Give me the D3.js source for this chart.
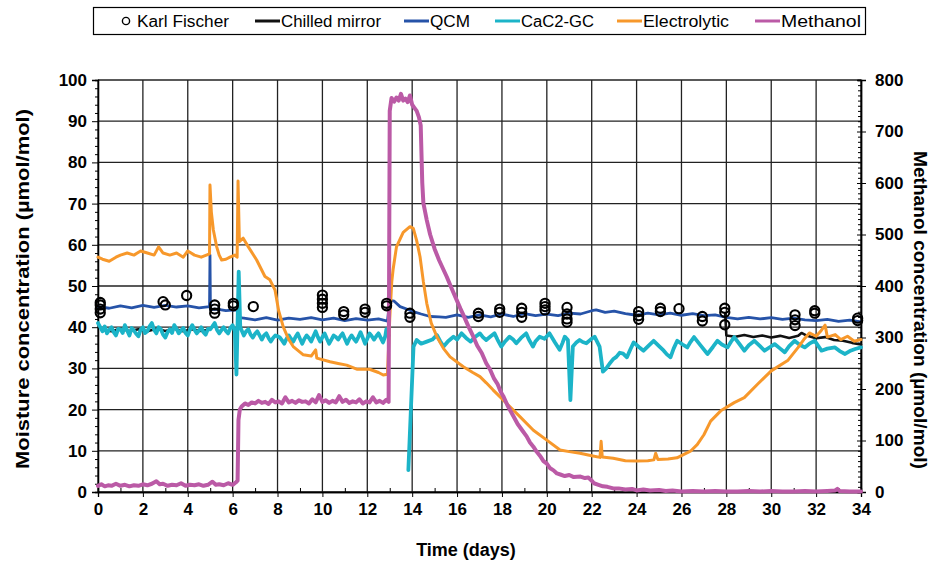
<!DOCTYPE html>
<html>
<head>
<meta charset="utf-8">
<script src="https://cdn.jsdelivr.net/npm/d3@7"></script>
<style>
  body { margin: 0; background: #fff; }
  text { font-family: "Liberation Sans", Arial, sans-serif; }
</style>
</head>
<body>
<svg id="chart" width="935" height="564"></svg>
<script>
// ---- tick values ----
const dayTicks = d3.range(0, 35, 2);
const moistureTicks = d3.range(0, 101, 10);
const methanolTicks = d3.range(0, 801, 100);

// ---- series: [time (days), value] ----
// Karl Fischer titration samples (µmol/mol)
const karlFischer = [
  [0.1,46],[0.1,45.4],[0.1,44.4],[0.1,43.5],
  [2.9,46.2],[3.0,45.4],[3.95,47.7],
  [5.2,45.4],[5.2,44.4],[5.2,43.4],[6.03,45.8],[6.03,45.2],[6.92,45],
  [10.0,47.8],[10.0,46.8],[10.0,45.8],[10.0,44.8],[10.95,43.8],[10.95,43],
  [11.9,44.4],[11.9,43.6],[12.86,45.8],[12.86,45.2],
  [13.9,43.4],[13.9,42.4],[16.95,43.4],[16.95,42.6],
  [17.9,44.4],[17.9,43.6],[18.88,44.6],[18.88,43.6],[18.88,42.4],
  [19.92,45.8],[19.92,45],[19.92,44.2],
  [20.9,44.8],[20.9,43.2],[20.9,42],[20.9,41.2],
  [24.09,43.8],[24.09,42.8],[24.09,41.9],[25.06,44.6],[25.06,43.8],[25.89,44.5],
  [26.93,42.6],[26.93,41.5],[27.93,44.6],[27.93,43.6],[27.93,40.6],
  [31.06,43],[31.06,41.8],[31.06,40.4],[31.94,44],[31.94,43.4],
  [33.85,42.2],[33.85,41.6]
];
// Chilled mirror hygrometer (µmol/mol), two recorded intervals
const chilledMirrorA = [
  [0.2,39.4],[0.6,39],[1.0,39.6],[1.4,39.1],[1.8,39.5],[2.2,39],[2.6,39.6],
  [3.0,39.1],[3.4,39.6],[3.8,39],[4.2,39.5],[4.6,39.1],[4.9,39.4]
];
const chilledMirrorB = [
  [27.95,43.2],[28.0,38],[28.4,37.7],[28.8,38.1],[29.2,37.6],[29.6,38],[30.0,37.5],
  [30.4,37.9],[30.8,37.4],[31.2,37.9],[31.35,38.6],[31.6,37.9],[32.0,37.3],
  [32.4,37.6],[32.8,36.9],[33.2,36.7],[33.6,36.2],[34.0,35.8]
];
// Quartz crystal microbalance (µmol/mol)
const qcm = [
  [0,45],[0.5,44.6],[1,45.2],[1.5,44.7],[2,45.3],[2.5,44.8],[3,45.3],[3.5,44.9],
  [4,45.2],[4.5,44.7],[4.97,45],[4.99,57.5],[5.01,44.3],[5.3,44.4],[5.7,44],
  [6.1,44.2],[6.25,44.1],[6.3,42.3],[6.5,42.2],[7,41.8],[7.5,42.3],[8,41.7],[8.5,42.2],
  [9,41.9],[9.5,42.3],[10,41.8],[10.5,42.2],[11,41.6],[11.5,42.1],[12,41.7],
  [12.5,42],[12.9,41.5],[13.0,46.5],[13.2,46.3],[13.46,45],[14.05,43.8],
  [14.4,43.2],[14.8,42.6],[15.2,42.5],[15.5,42.4],[16,43],[16.5,42.4],[17,43],
  [17.5,42.5],[18,43.2],[18.5,42.6],[19,43.3],[19.5,42.8],[20,43.2],[20.5,42.8],
  [21,43.4],[21.5,43.2],[22,44],[22.2,44.2],[22.6,43.6],[23,43.9],[23.5,43.3],
  [24,42.9],[24.5,43.4],[25,43],[25.5,43.4],[26,42.9],[26.5,43.3],[27,42.8],
  [27.5,43],[28,42.4],[28.5,42],[29,42.4],[29.5,42],[30,42.3],[30.5,41.9],
  [31,42.2],[31.5,41.8],[32,41.6],[32.5,41.9],[33,41.4],[33.5,41.7],[34,41.3]
];
// CaC2 reaction with gas chromatography (µmol/mol), two intervals
const cac2gcA = [
  [0,41],[0.1,40],[0.2,39],[0.3,40.2],[0.4,38.5],[0.5,39.4],[0.6,40],[0.7,38.8],
  [0.8,38],[0.9,39.6],[1.0,39.5],[1.1,38.6],[1.2,40.5],[1.3,39.2],[1.4,38],
  [1.5,39.8],[1.6,39.2],[1.7,38.4],[1.8,37.8],[1.9,39.4],[2.0,40],[2.1,38.6],
  [2.2,39],[2.3,40.2],[2.4,41],[2.5,39.4],[2.6,38.5],[2.7,40],[2.8,39.5],[2.9,38.2],
  [3.0,37.5],[3.1,38.8],[3.2,39.5],[3.3,38.6],[3.4,40.5],[3.5,39.6],[3.6,38.5],
  [3.7,39.2],[3.8,39.8],[3.9,38.6],[4.0,38],[4.1,39.4],[4.2,40.5],[4.3,39.4],
  [4.4,38.5],[4.5,39.2],[4.6,40],[4.7,38.8],[4.8,38.2],[4.9,39.6],[5.0,39.5],
  [5.1,40.2],[5.2,41],[5.3,39.4],[5.4,38.5],[5.5,39.3],[5.6,40],[5.7,39.1],
  [5.8,38.5],[5.9,39.8],[6.0,40.5],[6.1,39],[6.17,28.5],[6.27,53.5],[6.34,40],
  [6.5,38],[6.6,39],[6.7,39.5],[6.8,38.2],[6.9,37.5],[7.0,38.4],[7.1,39],[7.2,38],
  [7.3,37],[7.4,38],[7.5,38.5],[7.6,37.4],[7.7,36.5],[7.8,37.4],[7.9,38],[8.0,37.8],
  [8.1,37.5],[8.2,36.8],[8.3,36],[8.4,37.2],[8.5,38],[8.6,37.2],[8.7,36.5],[8.8,37.6],
  [8.9,38.5],[9.0,37.2],[9.1,36],[9.2,37.2],[9.3,38],[9.4,37.4],[9.5,36.5],[9.6,37.8],
  [9.7,39],[9.8,37.6],[9.9,36.5],[10.0,37.6],[10.1,38.5],[10.2,37.2],[10.3,36],
  [10.4,37],[10.5,38],[10.6,37.6],[10.7,37],[10.8,37.8],[10.9,38.5],[11.0,37.2],
  [11.1,36],[11.2,37.2],[11.3,38],[11.4,37.2],[11.5,36.5],[11.6,37.6],[11.7,38.8],
  [11.8,37.4],[11.9,36],[12.0,37.2],[12.1,38.5],[12.2,37.8],[12.3,37],[12.4,37.8],
  [12.5,38.5],[12.6,37.4],[12.7,36.3],[12.8,37.8],[12.85,39.5],[12.95,38]
];
const cac2gcB = [
  [13.83,5.3],[14.06,35.3],[14.2,36.9],[14.4,36],[14.65,36.5],[14.9,37],[15.1,38.1],
  [15.25,36.6],[15.4,35.3],[15.6,36.6],[15.84,37.7],[16.0,37],[16.2,38.5],[16.4,37.4],
  [16.6,36.5],[16.8,37.6],[17.02,38.5],[17.15,37.6],[17.3,36.9],[17.5,37.8],
  [17.67,38.5],[17.8,37],[17.97,35.3],[18.15,36.6],[18.34,37.7],[18.5,37],[18.64,36.1],
  [18.85,37.4],[19.08,38.5],[19.2,37],[19.38,35.3],[19.5,36.6],[19.68,37.7],
  [19.9,37.2],[20.12,38.5],[20.35,36.4],[20.57,34.5],[20.7,36.2],[20.8,37.7],
  [20.94,36.9],[21.05,22.3],[21.16,35.3],[21.3,36.2],[21.46,36.9],[21.6,36.4],
  [21.76,36.1],[21.95,37],[22.13,37.7],[22.35,35.3],[22.5,29.2],[22.65,30],
  [22.8,31.2],[22.95,32.2],[23.1,32.8],[23.25,33.8],[23.4,33.6],[23.57,32.7],
  [23.72,34.6],[23.87,36.3],[24.1,35.2],[24.31,34.3],[24.55,35.6],[24.76,36.7],
  [25.0,35.4],[25.21,34.3],[25.35,33.4],[25.51,32.7],[25.65,34.8],[25.81,36.7],
  [26.05,35.8],[26.26,35.1],[26.4,36.4],[26.56,37.6],[26.85,35.6],[27.16,33.5],
  [27.4,35.2],[27.6,36.7],[27.8,35.8],[28.05,35.1],[28.2,36.4],[28.35,37.6],
  [28.6,35.8],[28.8,34.3],[29.0,35.6],[29.25,36.7],[29.5,35.4],[29.7,34.3],
  [29.95,35.2],[30.15,35.9],[30.4,34.8],[30.6,33.9],[30.8,35.4],[31.04,36.7],
  [31.25,35.8],[31.49,35.1],[31.7,36],[31.94,36.7],[32.1,35.4],[32.24,34.3],
  [32.5,34.8],[32.84,35.1],[33.05,34.2],[33.29,33.5],[33.5,34.2],[33.74,34.7],
  [34.0,35.1]
];
// Electrolytic (P2O5) hygrometer (µmol/mol)
const electrolytic = [
  [0,57],[0.2,56.5],[0.5,56],[0.8,57],[1,57.5],[1.3,58],[1.6,57.5],[1.9,58.5],
  [2.2,58],[2.5,57.5],[2.7,59.5],[2.9,58],[3.2,57.5],[3.5,58],[3.8,57],[4.0,58.5],
  [4.3,57.5],[4.6,57],[4.97,57.8],[4.99,74.5],[5.05,68],[5.14,63.6],[5.29,59.5],
  [5.4,57.5],[5.51,56.3],[5.7,56.5],[5.88,57],[6.1,57.5],[6.2,57],[6.24,75.5],
  [6.3,60.8],[6.47,61.6],[6.7,59.5],[7.07,56.3],[7.44,52.3],[7.66,51.5],[7.89,49],
  [8.05,44],[8.26,40],[8.5,37],[8.7,35.3],[9.15,33.3],[9.5,33],[9.7,34.5],
  [9.75,32.5],[10.34,31.6],[10.7,31.2],[11.08,30.8],[11.53,29.8],[12.1,29.8],
  [12.5,29],[12.71,28.4],[12.9,28.6],[13.0,42],[13.09,51],[13.15,54],[13.3,59.5],
  [13.6,63],[13.9,64.4],[14.05,64],[14.2,61],[14.35,57.1],[14.5,51],[14.65,45.8],
  [14.85,41],[15.1,37.7],[15.4,34.8],[15.69,32.8],[16.28,30.4],[16.7,29],[17.02,28],
  [17.3,26.5],[17.6,24.8],[18.21,21.5],[18.8,18.3],[19.4,15],[20.0,12.6],
  [20.59,10.2],[21.0,9.8],[21.48,9.4],[22.0,8.8],[22.37,8.4],[22.42,12.3],
  [22.47,8.5],[22.96,8.2],[23.5,7.6],[24.0,7.5],[24.5,7.6],[24.77,7.8],[24.85,9.4],
  [24.95,7.9],[25.4,8.0],[25.8,8.3],[26.4,9.9],[26.7,11.5],[27.0,13.9],[27.3,17.2],
  [27.75,19.7],[28.35,21.7],[28.8,22.9],[29.4,26.2],[30.0,29.4],[30.75,32],
  [31.2,35.1],[31.45,37],[31.7,38.6],[32.0,37.8],[32.2,39],[32.4,40.5],[32.5,37.6],
  [32.85,38.2],[33.1,37],[33.4,37.8],[33.7,36.6],[34,37]
];
// Methanol concentration (µmol/mol, right axis)
const methanol = [
  [0,12],[0.15,15],[0.3,11],[0.45,13],[0.6,12],[0.8,16],[1,12],[1.2,14],[1.4,11],
  [1.6,13],[1.8,12],[2.0,15],[2.2,13],[2.4,16],[2.6,21],[2.75,15],[2.9,16],[3.1,12],
  [3.3,14],[3.5,13],[3.7,17],[3.9,12],[4.1,14],[4.3,13],[4.5,15],[4.7,12],[4.9,14],
  [5.1,20],[5.25,14],[5.4,15],[5.6,13],[5.8,17],[6.0,14],[6.15,19],[6.22,22],
  [6.26,140],[6.32,160],[6.4,166],[6.55,172],[6.7,169],[6.85,174],[7.0,172],
  [7.15,177],[7.3,173],[7.45,175],[7.6,171],[7.75,179],[7.9,174],[8.05,176],
  [8.2,172],[8.35,184],[8.5,174],[8.65,177],[8.8,173],[8.95,178],[9.1,175],
  [9.25,176],[9.4,172],[9.55,180],[9.7,174],[9.85,188],[10.0,175],[10.15,178],
  [10.3,173],[10.45,177],[10.6,174],[10.75,186],[10.9,175],[11.05,179],[11.2,173],
  [11.35,176],[11.5,174],[11.65,180],[11.8,172],[11.95,176],[12.1,174],[12.25,184],
  [12.4,174],[12.55,177],[12.7,173],[12.85,179],[12.95,175],[13.0,740],[13.08,765],
  [13.2,758],[13.3,766],[13.4,760],[13.5,773],[13.6,760],[13.7,764],[13.8,757],
  [13.9,770],[14.0,752],[14.1,746],[14.2,740],[14.3,728],[14.38,712],[14.45,600],
  [14.5,561],[14.65,528],[14.8,500],[15.0,472],[15.2,450],[15.54,418],[15.75,396],
  [15.98,373],[16.15,356],[16.3,342],[16.5,322],[16.72,302],[16.9,284],[17.1,270],
  [17.3,250],[17.47,238],[17.65,220],[17.8,210],[17.95,194],[18.06,186],[18.25,168],
  [18.5,148],[18.7,132],[18.9,120],[19.1,108],[19.25,96],[19.4,88],[19.55,78],
  [19.7,70],[19.85,60],[20.0,55],[20.15,46],[20.3,42],[20.45,36],[20.6,34],
  [20.8,31],[21,33],[21.2,29],[21.5,30],[21.7,27],[21.85,28],[22.0,22],[22.1,17],
  [22.3,14],[22.5,11],[22.7,10],[22.96,7],[23.2,7],[23.5,5],[23.8,6],[24,3],
  [24.3,5],[24.6,3],[25,4],[25.3,2],[25.6,3],[26,1],[26.5,2],[27,1],[27.5,2],
  [28,1],[28.5,1],[29,2],[29.5,1],[30,2],[30.5,1],[31,1],[31.5,2],[32,1],[32.5,2],
  [32.85,3],[32.95,6],[33.05,2],[33.5,1],[34,1]
];

// ---- layout ----
const svg = d3.select("#chart");
const x = d3.scaleLinear().domain([0, 34]).range([98, 861]);
const yL = d3.scaleLinear().domain([0, 100]).range([492, 80]);
const yR = d3.scaleLinear().domain([0, 800]).range([492, 80]);

const colors = {
  kf: "#000", chilled: "#111", qcm: "#2653a8",
  cac2: "#1cb4c8", electro: "#f7982b", methanol: "#bb5aa6"
};

// gridlines
const grid = svg.append("g").attr("stroke", "#222").attr("stroke-width", 1.3);
grid.selectAll("line.v").data(dayTicks).join("line")
  .attr("x1", d => x(d)).attr("x2", d => x(d))
  .attr("y1", yL(0)).attr("y2", yL(100));
grid.selectAll("line.h").data(moistureTicks).join("line")
  .attr("x1", x(0)).attr("x2", x(34))
  .attr("y1", d => yL(d)).attr("y2", d => yL(d));

// axes
const tickFont = g => g.selectAll("text")
  .attr("font-size", 17).attr("font-weight", "bold")
  .attr("font-family", "'Liberation Sans', Arial, sans-serif").attr("fill", "#000");

svg.append("g").attr("transform", `translate(0,${yL(0)})`)
  .call(d3.axisBottom(x).tickValues(dayTicks).tickSize(5).tickPadding(6).tickFormat(d3.format("d")))
  .call(tickFont);
svg.append("g").attr("transform", `translate(0,${yL(0)})`)
  .call(d3.axisTop(x).tickValues(d3.range(1, 34, 2)).tickSize(4).tickFormat(""));

svg.append("g").attr("transform", `translate(${x(0)},0)`)
  .call(d3.axisLeft(yL).tickValues(moistureTicks).tickSize(6).tickPadding(5))
  .call(tickFont);
svg.append("g").attr("transform", `translate(${x(0)},0)`)
  .call(d3.axisLeft(yL).tickValues(d3.range(2, 100, 2).filter(d => d % 10)).tickSize(3).tickFormat(""));

svg.append("g").attr("transform", `translate(${x(34)},0)`)
  .call(d3.axisRight(yR).tickValues(methanolTicks).tickSize(5).tickPadding(9))
  .call(tickFont);
svg.append("g").attr("transform", `translate(${x(34)},0)`)
  .call(d3.axisLeft(yR).tickValues(d3.range(10, 800, 10).filter(d => d % 100)).tickSize(3).tickFormat(""));
svg.append("g").attr("transform", `translate(${x(34)},0)`)
  .call(d3.axisLeft(yR).tickValues(methanolTicks).tickSize(4).tickFormat(""));

svg.selectAll(".domain").attr("stroke", "#000").attr("stroke-width", 1.3);
svg.selectAll(".tick line").attr("stroke", "#000");

// series lines
const lineL = d3.line().x(d => x(d[0])).y(d => yL(d[1]));
const lineR = d3.line().x(d => x(d[0])).y(d => yR(d[1]));
const plot = svg.append("g").attr("fill", "none")
  .attr("stroke-linejoin", "round").attr("stroke-linecap", "round");

plot.append("path").attr("d", lineL(qcm)).attr("stroke", colors.qcm).attr("stroke-width", 2.8);
[chilledMirrorA, chilledMirrorB].forEach(s =>
  plot.append("path").attr("d", lineL(s)).attr("stroke", colors.chilled).attr("stroke-width", 2.6));
[cac2gcA, cac2gcB].forEach(s =>
  plot.append("path").attr("d", lineL(s)).attr("stroke", colors.cac2).attr("stroke-width", 3.8));
plot.append("path").attr("d", lineL(electrolytic)).attr("stroke", colors.electro).attr("stroke-width", 3);
plot.append("path").attr("d", lineR(methanol)).attr("stroke", colors.methanol).attr("stroke-width", 4);

// Karl Fischer samples
svg.append("g").selectAll("circle").data(karlFischer).join("circle")
  .attr("cx", d => x(d[0])).attr("cy", d => yL(d[1])).attr("r", 4.6)
  .attr("fill", "none").attr("stroke", colors.kf).attr("stroke-width", 2.1);

// axis titles
svg.append("text").attr("transform", `translate(29,289) rotate(-90)`)
  .attr("text-anchor", "middle").attr("font-size", 19).attr("font-weight", "bold")
  .attr("textLength", 360).attr("lengthAdjust", "spacingAndGlyphs")
  .text("Moisture concentration (µmol/mol)");
svg.append("text").attr("transform", `translate(914,310) rotate(90)`)
  .attr("text-anchor", "middle").attr("font-size", 19).attr("font-weight", "bold")
  .attr("textLength", 318).attr("lengthAdjust", "spacingAndGlyphs")
  .text("Methanol concentration (µmol/mol)");
svg.append("text").attr("x", 466).attr("y", 556)
  .attr("text-anchor", "middle").attr("font-size", 18).attr("font-weight", "bold")
  .text("Time (days)");

// legend
const legendItems = [
  { name: "Karl Fischer", color: colors.kf, type: "circle", x: 120, w: 92 },
  { name: "Chilled mirror", color: colors.chilled, type: "line", x: 255, w: 100 },
  { name: "QCM", color: colors.qcm, type: "line", x: 404, w: 40 },
  { name: "CaC2-GC", color: colors.cac2, type: "line", x: 495, w: 73 },
  { name: "Electrolytic", color: colors.electro, type: "line", x: 617, w: 86 },
  { name: "Methanol", color: colors.methanol, type: "line", x: 755, w: 80 }
];
const legend = svg.append("g");
legend.append("rect").attr("x", 93.5).attr("y", 7.5).attr("width", 772).attr("height", 27)
  .attr("fill", "#fff").attr("stroke", "#000").attr("stroke-width", 1.2);
legendItems.forEach(it => {
  const g = legend.append("g").attr("transform", `translate(${it.x},21)`);
  let tx;
  if (it.type === "circle") {
    g.append("circle").attr("cx", 6).attr("cy", 0).attr("r", 3.6)
      .attr("fill", "none").attr("stroke", it.color).attr("stroke-width", 1.4);
    tx = 17;
  } else {
    g.append("line").attr("x1", 0).attr("x2", 25).attr("y1", 0).attr("y2", 0)
      .attr("stroke", it.color).attr("stroke-width", 3);
    tx = 26;
  }
  g.append("text").attr("x", tx).attr("y", 5.5).attr("font-size", 16)
    .attr("textLength", it.w).attr("lengthAdjust", "spacingAndGlyphs").text(it.name);
});
</script>
</body>
</html>
